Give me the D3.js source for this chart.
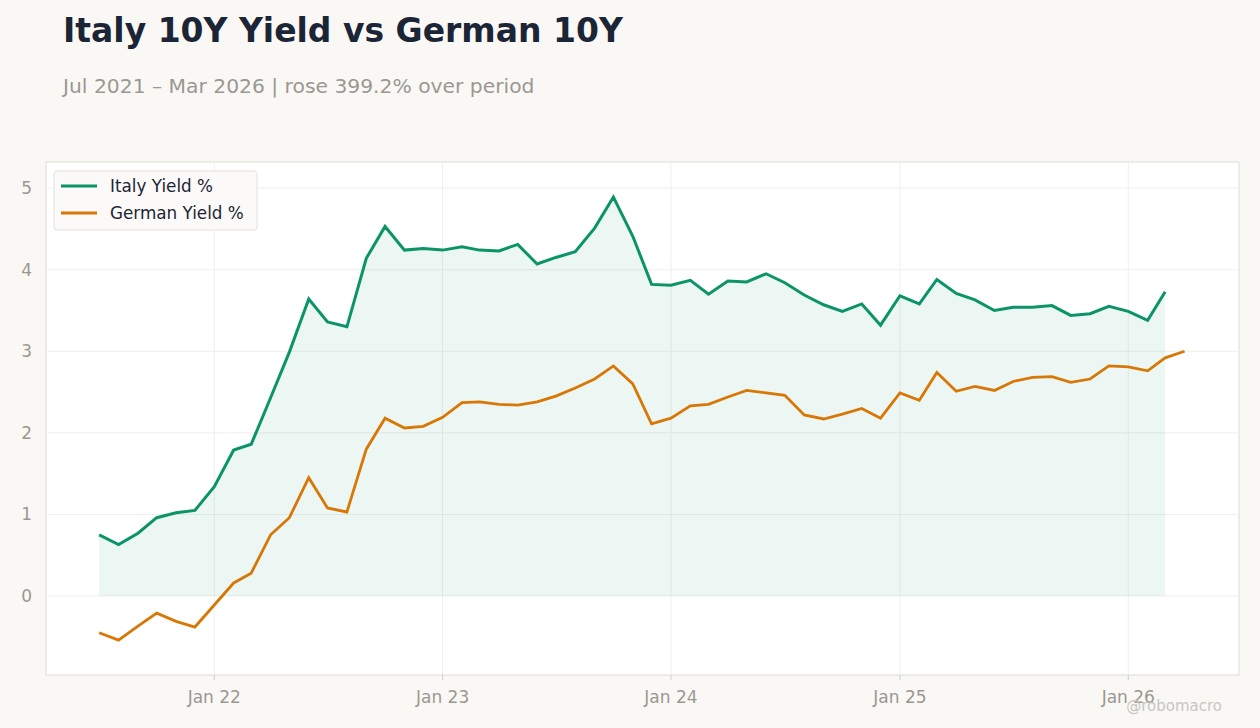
<!DOCTYPE html>
<html><head><meta charset="utf-8">
<script src="https://cdn.jsdelivr.net/npm/d3@7"></script>
<style>body{margin:0;background:#f9f8f5;font-family:"DejaVu Sans",sans-serif}</style>
</head><body><svg id="c" width="1260" height="728"></svg>
<script>
const italy=[0.75,0.63,0.77,0.96,1.02,1.05,1.34,1.79,1.86,2.43,2.99,3.64,3.36,3.30,4.14,4.53,4.24,4.26,4.24,4.28,4.24,4.23,4.31,4.07,4.15,4.22,4.51,4.89,4.41,3.82,3.81,3.87,3.70,3.86,3.85,3.95,3.84,3.69,3.57,3.49,3.58,3.32,3.68,3.58,3.88,3.71,3.63,3.50,3.54,3.54,3.56,3.44,3.46,3.55,3.49,3.38,3.73];
const german=[-0.45,-0.54,-0.37,-0.21,-0.31,-0.38,-0.11,0.16,0.28,0.75,0.96,1.45,1.08,1.03,1.80,2.18,2.06,2.08,2.19,2.37,2.38,2.35,2.34,2.38,2.45,2.55,2.66,2.82,2.60,2.11,2.18,2.33,2.35,2.44,2.52,2.49,2.46,2.22,2.17,2.23,2.30,2.18,2.49,2.40,2.74,2.51,2.57,2.52,2.63,2.68,2.69,2.62,2.66,2.82,2.81,2.76,2.92,3.00];
const startMonth=new Date(2021,6,1);
const yTicks=[0,1,2,3,4,5];
const xTickLabels=["Jan 22","Jan 23","Jan 24","Jan 25","Jan 26"];
const xTickDates=[new Date(2022,0,1),new Date(2023,0,1),new Date(2024,0,1),new Date(2025,0,1),new Date(2026,0,1)];
const dateAt=i=>new Date(startMonth.getFullYear(),startMonth.getMonth()+i,1);

const svg=d3.select("#c");
const L=46,R=1239,T=162,B=675;
const x=d3.scaleTime().domain([new Date(2021,3,7),new Date(2026,5,27)]).range([L,R]);
const y=d3.scaleLinear().domain([-0.968,5.32]).range([B,T]);
svg.append("text").attr("x",63).attr("y",42).attr("font-size",33).attr("font-weight","bold").attr("fill","#1c2536").text("Italy 10Y Yield vs German 10Y");
svg.append("text").attr("x",63).attr("y",93).attr("font-size",20.3).attr("fill","#999891").text("Jul 2021 – Mar 2026 | rose 399.2% over period");
svg.append("rect").attr("x",L).attr("y",T).attr("width",R-L).attr("height",B-T).attr("fill","#fff").attr("stroke","#dedbd5");
const g=svg.append("g");
yTicks.forEach(t=>{g.append("line").attr("x1",L).attr("x2",R).attr("y1",y(t)).attr("y2",y(t)).attr("stroke","#f0efec");
 g.append("text").attr("x",32).attr("y",y(t)+6).attr("text-anchor","end").attr("font-size",17).attr("fill","#999891").text(t);});
xTickDates.forEach((d,i)=>{g.append("line").attr("x1",x(d)).attr("x2",x(d)).attr("y1",T).attr("y2",B).attr("stroke","#f0efec");
 g.append("line").attr("x1",x(d)).attr("x2",x(d)).attr("y1",B).attr("y2",B+5).attr("stroke","#ccc");
 g.append("text").attr("x",x(d)).attr("y",703).attr("text-anchor","middle").attr("font-size",17).attr("fill","#999891").text(xTickLabels[i]);});
const it=italy.map((v,i)=>[dateAt(i),v]), ge=german.map((v,i)=>[dateAt(i),v]);
g.append("path").attr("d",d3.area().x(d=>x(d[0])).y0(y(0)).y1(d=>y(d[1]))(it)).attr("fill","#0a9467").attr("fill-opacity",0.08);
const line=d3.line().x(d=>x(d[0])).y(d=>y(d[1]));
g.append("path").attr("d",line(ge)).attr("fill","none").attr("stroke","#d97706").attr("stroke-width",2.8);
g.append("path").attr("d",line(it)).attr("fill","none").attr("stroke","#0a9467").attr("stroke-width",3);
const lg=svg.append("g");
lg.append("rect").attr("x",54).attr("y",171).attr("width",203).attr("height",59).attr("rx",3).attr("fill","#fbfaf8").attr("stroke","#e4e1dc");
[["Italy Yield %","#0a9467"],["German Yield %","#d97706"]].forEach((s,i)=>{
 lg.append("line").attr("x1",61).attr("x2",97).attr("y1",186+i*27).attr("y2",186+i*27).attr("stroke",s[1]).attr("stroke-width",3);
 lg.append("text").attr("x",110).attr("y",192+i*27).attr("font-size",16.8).attr("fill","#1c2536").text(s[0]);});
svg.append("text").attr("x",1222).attr("y",711).attr("text-anchor","end").attr("font-size",15).attr("fill","#c8c6c2").text("@robomacro");
</script></body></html>
